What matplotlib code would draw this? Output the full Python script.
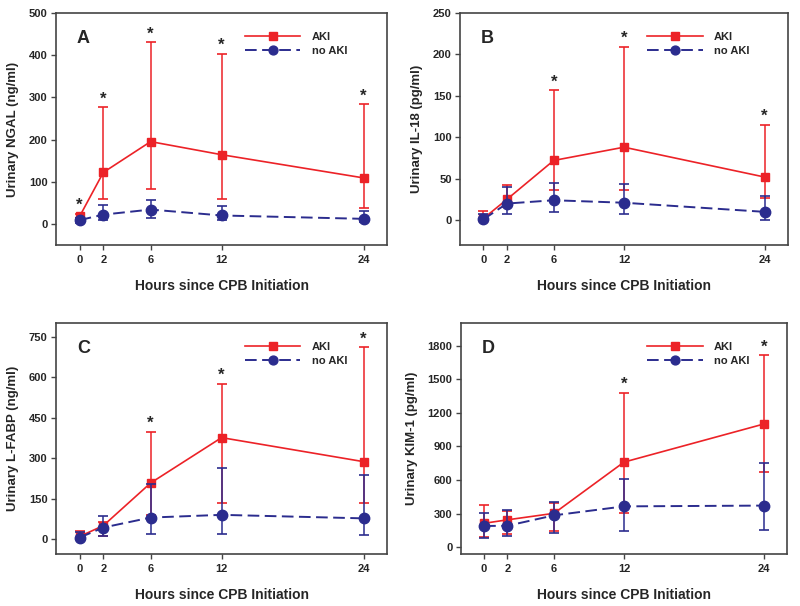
import matplotlib
matplotlib.use("Agg")
import matplotlib.pyplot as plt
from matplotlib import font_manager as fm
import numpy as np

# keep the narrow variant of Liberation Sans out of the font lookup
fm.fontManager.ttflist = [f for f in fm.fontManager.ttflist if 'Narrow' not in f.fname]
plt.rcParams['font.family'] = ['Liberation Sans', 'DejaVu Sans']
plt.rcParams['font.weight'] = 'bold'
plt.rcParams['axes.labelweight'] = 'bold'

hours = [0, 2, 6, 12, 24]

# Panel A - NGAL
ngal_aki = [18, 122, 195, 164, 109]
ngal_aki_lo = [14, 58, 82, 60, 37]
ngal_aki_hi = [24, 276, 430, 403, 283]
ngal_no = [9, 22, 34, 20, 12]
ngal_no_lo = [3, 10, 15, 9, 5]
ngal_no_hi = [15, 44, 56, 43, 30]
ngal_star = [0, 2, 6, 12, 24]

# Panel B - IL-18
il18_aki = [2, 25, 72, 88, 52]
il18_aki_lo = [0, 16, 36, 36, 27]
il18_aki_hi = [11, 42, 157, 209, 115]
il18_no = [1, 20, 24, 21, 10]
il18_no_lo = [0, 7, 10, 8, 0]
il18_no_hi = [8, 40, 45, 43, 29]
il18_star = [6, 12, 24]

# Panel C - L-FABP
lfabp_aki = [10, 50, 208, 376, 287]
lfabp_aki_lo = [3, 10, 88, 133, 135]
lfabp_aki_hi = [30, 63, 398, 576, 710]
lfabp_no = [6, 43, 80, 90, 77]
lfabp_no_lo = [1, 10, 20, 20, 17]
lfabp_no_hi = [25, 86, 205, 265, 236]
lfabp_star = [6, 12, 24]

# Panel D - KIM-1
kim_aki = [214, 245, 303, 760, 1100]
kim_aki_lo = [89, 116, 143, 305, 670]
kim_aki_hi = [381, 321, 392, 1380, 1712]
kim_no = [190, 192, 285, 365, 372]
kim_no_lo = [80, 98, 125, 145, 150]
kim_no_hi = [303, 330, 401, 605, 752]
kim_star = [12, 24]

red = '#EC2227'
blue = '#2B2C8E'
txt = '#262626'

panels = [
    ('A', 'Urinary NGAL (ng/ml)', [0.070, 0.5957, 0.414, 0.383], (-50, 500), np.arange(0, 501, 100),
     ngal_aki, ngal_aki_lo, ngal_aki_hi, ngal_no, ngal_no_lo, ngal_no_hi, ngal_star),
    ('B', 'Urinary IL-18 (pg/ml)', [0.575, 0.5957, 0.410, 0.383], (-30, 250), np.arange(0, 251, 50),
     il18_aki, il18_aki_lo, il18_aki_hi, il18_no, il18_no_lo, il18_no_hi, il18_star),
    ('C', 'Urinary L-FABP (ng/ml)', [0.070, 0.0858, 0.414, 0.381], (-55, 800), np.arange(0, 751, 150),
     lfabp_aki, lfabp_aki_lo, lfabp_aki_hi, lfabp_no, lfabp_no_lo, lfabp_no_hi, lfabp_star),
    ('D', 'Urinary KIM-1 (pg/ml)', [0.576, 0.0858, 0.408, 0.381], (-60, 2000), np.arange(0, 1801, 300),
     kim_aki, kim_aki_lo, kim_aki_hi, kim_no, kim_no_lo, kim_no_hi, kim_star),
]

fig = plt.figure(figsize=(8, 6.06), dpi=100)

for (letter, ylabel, rect, ylim, yticks, a, alo, ahi, n, nlo, nhi, stars) in panels:
    ax = fig.add_axes(rect)
    a = np.array(a); n = np.array(n)
    aerr = [a - np.array(alo), np.array(ahi) - a]
    nerr = [n - np.array(nlo), np.array(nhi) - n]

    ax.errorbar(hours, a, yerr=aerr, color=red, lw=1.2, marker='s', ms=6,
                capsize=3.5, capthick=1.2, elinewidth=1.1, label='AKI', zorder=3)
    ax.errorbar(hours, n, yerr=nerr, color=blue, lw=1.4, ls=(0, (6, 2.8)), marker='o', ms=7.5,
                capsize=3.5, capthick=1.2, elinewidth=1.1, label='no AKI', zorder=4)

    for h in stars:
        i = hours.index(h)
        ax.annotate('*', (h, ahi[i]), xytext=(0, 0.5), textcoords='offset points',
                    ha='center', va='bottom', fontsize=12, color=txt)

    ax.set_xlim(-2, 26)
    ax.set_ylim(*ylim)
    ax.set_xticks(hours)
    ax.set_yticks(yticks)
    ax.tick_params(direction='out', length=3.5, width=1, colors='#444444', labelcolor=txt,
                   labelsize=8, pad=2.5)
    ax.tick_params(axis='x', pad=4)
    for s in ax.spines.values():
        s.set_color('#444444')
        s.set_linewidth(1.2)
    ax.set_xlabel('Hours since CPB Initiation', fontsize=10, color=txt, labelpad=10)
    ax.set_ylabel(ylabel, fontsize=9.5, color=txt, labelpad=7)
    ax.text(0.063, 0.925, letter, transform=ax.transAxes, fontsize=13, color=txt,
            ha='left', va='top')

    handles, labels = ax.get_legend_handles_labels()
    handles = [h[0] for h in handles]
    leg = ax.legend(handles, labels, loc='upper left', bbox_to_anchor=(0.54, 0.96), frameon=False,
                    handlelength=5.0, fontsize=8, labelspacing=0.35, handletextpad=1.0,
                    numpoints=1, markerscale=0.85)
    for t in leg.get_texts():
        t.set_color(txt)

fig.savefig('out.png', dpi=100)
